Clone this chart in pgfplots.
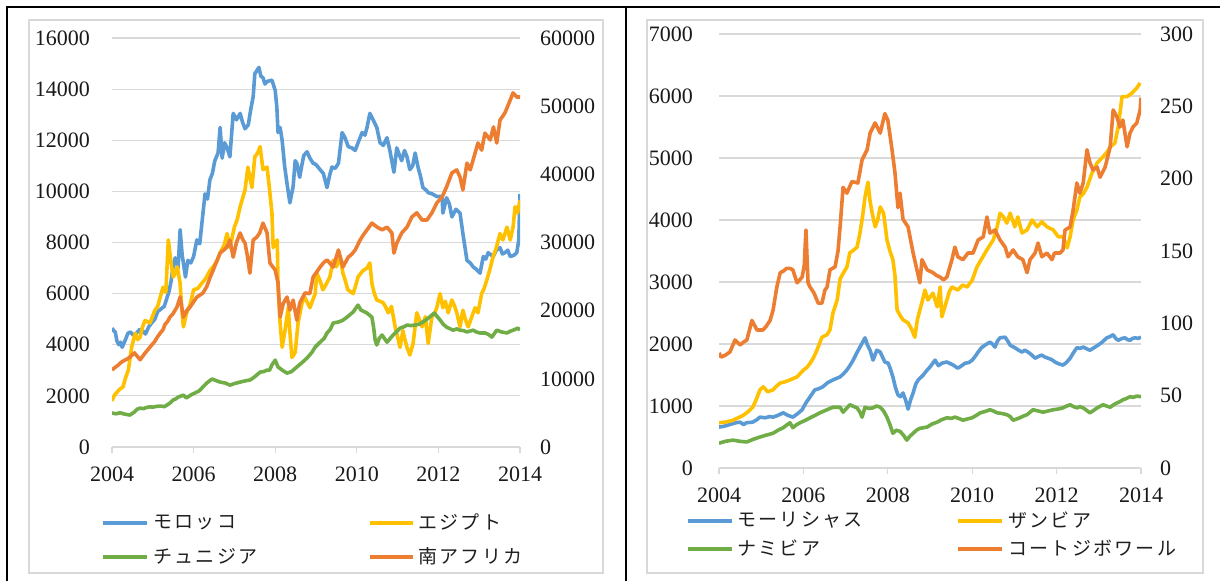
\documentclass[border=0pt]{standalone}
\usepackage{pgfplots}
\pgfplotsset{compat=1.18}
\usepackage{fontspec}
\setmainfont{Liberation Serif}
\newfontfamily\cjk[LetterSpace=12]{Noto Sans CJK JP}
\definecolor{cblue}{HTML}{5B9BD5}
\definecolor{corange}{HTML}{ED7D31}
\definecolor{cyellow}{HTML}{FFC000}
\definecolor{cgreen}{HTML}{70AD47}
\definecolor{gridgray}{HTML}{D9D9D9}
\definecolor{framegray}{HTML}{D9D9D9}
\pgfplotsset{
  base/.style={scale only axis, xmin=2004, xmax=2014, ymin=0,
    /pgf/number format/1000 sep={}, /pgf/number format/assume math mode=true,
    scaled y ticks=false, scaled x ticks=false,
    tick label style={font=\fontsize{22}{22}\selectfont, text=black!90},
    tick align=outside, major tick length=6pt},
  prim/.style={base, xtick={2004,2006,...,2014},
    axis x line*=bottom, axis y line*=left,
    y axis line style={draw=none}, x axis line style={draw=gridgray, line width=1.2pt},
    xtick style={draw=gridgray, line width=1.2pt}, ytick style={draw=none},
    ymajorgrids, grid style={draw=gridgray, line width=1.2pt},
    xticklabel style={inner sep=0pt, anchor=north, yshift=-14pt}},
  seco/.style={base, axis y line*=right, axis x line=none, xtick=\empty,
    y axis line style={draw=none}, ytick style={draw=none}}
}
\begin{document}
\begin{tikzpicture}[x=1pt,y=1pt]
\useasboundingbox (0,0) rectangle (1220,581);
% frames
\draw[framegray, line width=1.5pt] (29,8) rectangle (603,561);
\draw[framegray, line width=1.5pt] (647,8) rectangle (1203,561);
\draw[black, line width=2.5pt] (7,0) -- (7,574) -- (1220,574);
\draw[black, line width=2.5pt] (626,0) -- (626,574);

% ---------------- left panel ----------------
\begin{axis}[prim, at={(112pt,134pt)}, anchor=south west, width=408pt, height=409pt,
  ymax=16000, ytick={0,2000,...,16000}, yticklabel style={inner sep=0pt, xshift=-16pt}]
% Morocco
\addplot[draw=cblue, line width=3.6pt, line join=round, mark=none] table {
2004.00 4650
2004.04 4550
2004.08 4500
2004.12 4150
2004.17 4000
2004.21 4100
2004.25 3900
2004.33 4200
2004.39 4450
2004.45 4500
2004.52 4380
2004.6 4450
2004.68 4600
2004.75 4550
2004.82 4420
2004.9 4700
2004.97 4850
2005.05 5000
2005.12 5300
2005.2 5400
2005.28 5500
2005.35 5850
2005.4 6100
2005.45 6500
2005.5 7100
2005.55 7400
2005.62 7000
2005.67 8500
2005.72 7500
2005.75 7200
2005.8 6650
2005.86 7300
2005.93 7200
2006.0 7450
2006.08 8100
2006.15 7950
2006.22 9000
2006.28 9900
2006.34 9700
2006.4 10450
2006.46 10700
2006.52 11200
2006.6 11500
2006.65 12500
2006.7 11300
2006.76 11900
2006.82 11700
2006.89 11350
2006.93 12200
2006.97 13050
2007.05 12800
2007.14 13050
2007.2 12700
2007.26 12450
2007.34 12600
2007.4 13200
2007.46 13700
2007.5 14600
2007.6 14850
2007.65 14500
2007.7 14450
2007.75 14200
2007.8 14300
2007.92 14350
2008.0 13950
2008.04 13300
2008.07 12300
2008.12 12500
2008.17 12000
2008.23 11000
2008.29 10300
2008.36 9550
2008.44 10200
2008.49 11200
2008.53 11100
2008.6 10550
2008.65 11000
2008.7 11400
2008.78 11550
2008.85 11300
2008.93 11100
2009.0 11050
2009.1 10850
2009.18 10700
2009.27 10150
2009.33 10600
2009.39 10950
2009.47 10900
2009.55 11100
2009.64 12300
2009.71 12100
2009.79 11750
2009.88 11700
2009.96 11600
2010.03 11900
2010.13 12300
2010.2 12200
2010.25 12500
2010.32 13050
2010.4 12800
2010.49 12500
2010.57 11900
2010.65 11800
2010.74 12100
2010.81 11600
2010.91 10750
2010.98 11700
2011.05 11400
2011.1 11200
2011.17 11600
2011.23 11350
2011.3 10850
2011.37 11000
2011.43 11500
2011.5 10950
2011.56 10600
2011.62 10150
2011.7 10050
2011.75 9950
2011.85 9900
2011.96 9800
2012.09 9800
2012.11 9150
2012.2 9750
2012.27 9500
2012.33 9000
2012.43 9300
2012.53 9150
2012.6 8350
2012.7 7300
2012.78 7200
2012.85 7050
2012.93 6950
2013.02 6800
2013.1 7450
2013.16 7350
2013.22 7600
2013.34 7450
2013.42 7700
2013.51 7800
2013.57 7550
2013.63 7600
2013.7 7700
2013.76 7450
2013.85 7500
2013.92 7600
2013.97 8100
2014.0 9900
};
% Egypt
\addplot[draw=cyellow, line width=3.6pt, line join=round, mark=none] table {
2004.0 1800
2004.05 2000
2004.1 2100
2004.18 2250
2004.27 2350
2004.33 2700
2004.4 3000
2004.48 3900
2004.57 4450
2004.63 4200
2004.69 4300
2004.75 4700
2004.81 4950
2004.93 4850
2004.99 5100
2005.05 5350
2005.12 5500
2005.18 5850
2005.25 6250
2005.32 6050
2005.38 8100
2005.44 7300
2005.5 6650
2005.55 6800
2005.6 7050
2005.67 6400
2005.71 5400
2005.75 4700
2005.83 5250
2005.92 5600
2006.0 6150
2006.1 6200
2006.2 6400
2006.3 6600
2006.4 6900
2006.5 7100
2006.58 7300
2006.65 7600
2006.75 7900
2006.82 8350
2006.89 7800
2007.0 8600
2007.07 8900
2007.14 9400
2007.26 10050
2007.33 10950
2007.43 10150
2007.5 11350
2007.57 11500
2007.63 11750
2007.7 10850
2007.8 10950
2007.86 10100
2007.92 9150
2007.95 7800
2008.05 8100
2008.07 6250
2008.12 4850
2008.17 3900
2008.24 4550
2008.32 5450
2008.36 4500
2008.41 3500
2008.49 3700
2008.56 4850
2008.66 5650
2008.73 5850
2008.85 5450
2008.98 6000
2009.02 6800
2009.1 6500
2009.17 6150
2009.26 6400
2009.34 6650
2009.42 7300
2009.5 7050
2009.59 7450
2009.66 6800
2009.72 6500
2009.78 6150
2009.91 6000
2009.97 6300
2010.03 6650
2010.15 6900
2010.25 7000
2010.32 7200
2010.37 6400
2010.43 6000
2010.49 5750
2010.57 5700
2010.64 5650
2010.7 5500
2010.77 5250
2010.85 5500
2010.94 4700
2011.0 4300
2011.06 3900
2011.13 4550
2011.18 4200
2011.23 3900
2011.3 3600
2011.38 4050
2011.47 5250
2011.53 5000
2011.6 4700
2011.68 5100
2011.75 4050
2011.84 5100
2011.9 5200
2011.96 5450
2012.04 6000
2012.11 5450
2012.17 5700
2012.24 5250
2012.33 5750
2012.4 5500
2012.45 5250
2012.53 4700
2012.6 5350
2012.66 5000
2012.73 4700
2012.82 5100
2012.9 5450
2012.97 5250
2013.06 6000
2013.12 6200
2013.19 6550
2013.27 7000
2013.34 7450
2013.42 7800
2013.51 8350
2013.58 8100
2013.68 8600
2013.76 8100
2013.83 8600
2013.88 9400
2013.94 9150
2014.0 9650
};
% Tunisia
\addplot[draw=cgreen, line width=3.6pt, line join=round, mark=none] table {
2004.0 1330
2004.1 1300
2004.2 1340
2004.3 1290
2004.44 1250
2004.55 1370
2004.62 1480
2004.69 1520
2004.77 1500
2004.85 1550
2004.93 1570
2005.0 1560
2005.1 1590
2005.2 1600
2005.28 1580
2005.35 1640
2005.42 1720
2005.5 1840
2005.56 1880
2005.62 1950
2005.75 2030
2005.82 1920
2005.95 2050
2006.08 2150
2006.14 2200
2006.2 2300
2006.32 2500
2006.45 2660
2006.55 2600
2006.65 2540
2006.78 2500
2006.89 2420
2007.0 2480
2007.14 2540
2007.3 2600
2007.38 2620
2007.46 2700
2007.55 2820
2007.63 2930
2007.72 2950
2007.8 3010
2007.86 3000
2007.92 3210
2008.0 3400
2008.07 3130
2008.18 3000
2008.29 2890
2008.4 2950
2008.53 3130
2008.65 3290
2008.78 3480
2008.9 3700
2008.98 3910
2009.1 4100
2009.2 4250
2009.27 4460
2009.35 4600
2009.42 4850
2009.55 4890
2009.65 4950
2009.76 5080
2009.91 5280
2010.03 5550
2010.1 5360
2010.25 5240
2010.37 5080
2010.41 4700
2010.45 4180
2010.49 3990
2010.55 4250
2010.62 4380
2010.74 4100
2010.82 4250
2010.89 4380
2011.0 4550
2011.06 4650
2011.15 4700
2011.23 4770
2011.33 4750
2011.43 4770
2011.52 4800
2011.62 4890
2011.72 5000
2011.84 5160
2011.9 5240
2012.04 4970
2012.12 4800
2012.2 4690
2012.36 4570
2012.45 4620
2012.53 4570
2012.62 4550
2012.7 4500
2012.85 4570
2012.93 4500
2013.02 4460
2013.15 4460
2013.23 4400
2013.31 4300
2013.43 4570
2013.55 4500
2013.68 4460
2013.75 4520
2013.83 4570
2013.95 4650
2014.0 4570
};
\end{axis}
\begin{axis}[seco, at={(112pt,134pt)}, anchor=south west, width=408pt, height=409pt,
  ymax=60000, ytick={0,10000,...,60000}, yticklabel style={inner sep=0pt, xshift=14pt}]
% South Africa
\addplot[draw=corange, line width=3.6pt, line join=round, mark=none] table {
2004.0 11300
2004.08 11700
2004.15 12000
2004.22 12400
2004.3 12700
2004.37 12900
2004.44 13200
2004.55 13800
2004.62 13300
2004.69 12800
2004.8 13700
2004.93 14650
2005.05 15500
2005.12 16200
2005.18 16700
2005.25 17200
2005.3 18000
2005.36 18400
2005.42 19050
2005.5 19600
2005.59 20500
2005.67 22000
2005.75 19050
2005.83 20000
2005.91 20500
2006.0 21300
2006.08 22000
2006.16 22300
2006.23 22600
2006.32 23500
2006.4 24800
2006.48 25950
2006.57 27300
2006.65 28450
2006.74 28900
2006.82 29350
2006.89 30350
2006.97 27850
2007.05 30000
2007.14 31400
2007.2 30500
2007.26 29900
2007.32 28000
2007.38 25500
2007.46 30350
2007.55 30800
2007.62 31400
2007.7 32850
2007.8 31400
2007.87 27000
2008.0 25950
2008.07 24050
2008.12 19050
2008.2 21100
2008.29 22000
2008.36 20100
2008.44 21550
2008.53 18600
2008.6 21100
2008.73 22600
2008.85 22500
2008.93 24950
2009.02 25700
2009.1 26400
2009.18 27000
2009.27 27450
2009.42 26400
2009.55 28900
2009.66 26400
2009.79 27850
2009.88 28300
2009.96 28900
2010.08 30350
2010.17 31200
2010.25 31850
2010.37 32850
2010.5 32250
2010.62 31850
2010.74 32250
2010.86 31400
2010.91 28450
2010.98 29900
2011.1 31400
2011.23 32250
2011.35 33750
2011.47 34350
2011.6 33300
2011.72 33300
2011.84 34350
2011.96 35800
2012.09 36650
2012.2 38150
2012.33 40200
2012.45 40650
2012.53 39600
2012.6 37700
2012.7 41650
2012.78 40650
2012.85 42100
2012.97 44600
2013.06 43550
2013.14 46050
2013.27 45050
2013.35 46950
2013.43 44600
2013.51 47950
2013.63 49000
2013.76 50900
2013.83 51950
2013.92 51350
2014.0 51350
};
\end{axis}

% ---------------- right panel ----------------
\begin{axis}[prim, at={(719pt,113pt)}, anchor=south west, width=422pt, height=434pt,
  ymax=7000, ytick={0,1000,...,7000}, yticklabel style={inner sep=0pt, xshift=-20pt}]
% Mauritius
\addplot[draw=cblue, line width=3.6pt, line join=round, mark=none] table {
2004.0 660
2004.1 670
2004.2 690
2004.3 710
2004.4 730
2004.5 740
2004.58 700
2004.65 730
2004.8 740
2004.9 780
2004.97 820
2005.1 810
2005.2 830
2005.28 820
2005.4 850
2005.52 890
2005.63 850
2005.75 820
2005.87 880
2005.97 940
2006.06 1050
2006.16 1150
2006.27 1260
2006.37 1280
2006.46 1310
2006.58 1380
2006.7 1420
2006.87 1470
2006.95 1520
2007.03 1580
2007.1 1650
2007.18 1740
2007.26 1850
2007.34 1950
2007.46 2100
2007.52 1980
2007.58 1900
2007.65 1740
2007.74 1900
2007.82 1870
2007.93 1710
2008.01 1690
2008.06 1600
2008.12 1470
2008.18 1300
2008.24 1180
2008.3 1150
2008.36 1210
2008.42 1100
2008.48 950
2008.54 1100
2008.6 1210
2008.66 1350
2008.72 1420
2008.84 1500
2008.92 1570
2009.0 1630
2009.12 1740
2009.2 1650
2009.28 1690
2009.4 1710
2009.55 1660
2009.66 1610
2009.75 1650
2009.83 1690
2009.92 1700
2010.0 1740
2010.07 1800
2010.14 1870
2010.22 1940
2010.3 1980
2010.42 2030
2010.48 2000
2010.54 1950
2010.6 2050
2010.66 2100
2010.78 2110
2010.84 2050
2010.9 1980
2011.01 1940
2011.1 1900
2011.18 1870
2011.25 1900
2011.32 1870
2011.4 1830
2011.49 1770
2011.57 1800
2011.65 1820
2011.72 1790
2011.8 1770
2011.88 1750
2011.96 1710
2012.05 1680
2012.15 1660
2012.23 1700
2012.32 1770
2012.4 1860
2012.48 1940
2012.56 1930
2012.63 1950
2012.72 1920
2012.79 1900
2012.91 1950
2013.0 1990
2013.08 2030
2013.19 2100
2013.27 2120
2013.34 2150
2013.4 2090
2013.46 2060
2013.55 2090
2013.62 2100
2013.68 2070
2013.74 2060
2013.8 2090
2013.86 2100
2013.93 2090
2014.0 2110
};
% Zambia
\addplot[draw=cyellow, line width=3.6pt, line join=round, mark=none] table {
2004.0 730
2004.15 740
2004.33 770
2004.45 810
2004.55 840
2004.66 890
2004.8 980
2004.88 1100
2004.97 1260
2005.05 1310
2005.15 1230
2005.28 1260
2005.36 1320
2005.45 1370
2005.56 1390
2005.68 1420
2005.85 1470
2006.0 1580
2006.08 1620
2006.16 1690
2006.24 1780
2006.32 1900
2006.44 2110
2006.56 2150
2006.63 2230
2006.7 2500
2006.8 2710
2006.87 3050
2006.95 3150
2007.03 3240
2007.1 3470
2007.2 3520
2007.27 3560
2007.34 3790
2007.4 4050
2007.46 4370
2007.53 4610
2007.58 4300
2007.63 4110
2007.7 3890
2007.76 4000
2007.82 4210
2007.9 4110
2007.98 3680
2008.05 3500
2008.12 3360
2008.17 3100
2008.22 2550
2008.3 2450
2008.36 2390
2008.48 2340
2008.57 2230
2008.64 2110
2008.7 2390
2008.76 2550
2008.82 2700
2008.88 2870
2008.95 2710
2009.07 2820
2009.17 2600
2009.24 2920
2009.28 2440
2009.4 2710
2009.46 2850
2009.52 2920
2009.66 2870
2009.77 2950
2009.88 2920
2010.0 3030
2010.11 3240
2010.23 3380
2010.35 3520
2010.5 3680
2010.59 3890
2010.66 4110
2010.74 4050
2010.82 3950
2010.9 4110
2011.01 3890
2011.08 4050
2011.18 3790
2011.3 3840
2011.42 4000
2011.54 3890
2011.65 3970
2011.77 3890
2011.92 3840
2012.04 3730
2012.15 3730
2012.25 3550
2012.32 3730
2012.39 4000
2012.48 4160
2012.55 4370
2012.63 4420
2012.72 4530
2012.84 4760
2012.96 4920
2013.1 5020
2013.2 5100
2013.27 5180
2013.38 5240
2013.46 5500
2013.55 5990
2013.67 5990
2013.79 6050
2013.9 6130
2013.98 6210
};
% Namibia
\addplot[draw=cgreen, line width=3.6pt, line join=round, mark=none] table {
2004.0 400
2004.15 430
2004.33 450
2004.5 430
2004.66 420
2004.8 460
2004.97 500
2005.12 530
2005.28 560
2005.4 610
2005.52 650
2005.6 690
2005.68 730
2005.75 650
2005.84 700
2005.92 730
2006.05 770
2006.16 810
2006.28 850
2006.39 890
2006.56 940
2006.7 980
2006.87 980
2006.94 900
2007.02 960
2007.1 1020
2007.2 990
2007.27 970
2007.34 900
2007.39 820
2007.46 980
2007.55 960
2007.65 970
2007.73 1000
2007.82 980
2007.9 920
2007.98 820
2008.05 700
2008.12 560
2008.2 610
2008.29 590
2008.37 530
2008.45 450
2008.52 510
2008.6 560
2008.68 610
2008.76 640
2008.85 650
2008.93 660
2009.05 710
2009.17 740
2009.28 780
2009.4 810
2009.5 800
2009.59 820
2009.68 800
2009.78 770
2009.88 790
2010.0 810
2010.1 850
2010.19 890
2010.3 910
2010.42 940
2010.5 920
2010.59 890
2010.7 880
2010.82 860
2010.9 830
2010.97 770
2011.05 790
2011.13 810
2011.22 840
2011.3 860
2011.37 900
2011.44 940
2011.56 920
2011.68 900
2011.8 920
2011.92 940
2012.03 950
2012.15 970
2012.24 1000
2012.32 1020
2012.4 990
2012.48 970
2012.55 990
2012.63 970
2012.71 930
2012.79 890
2012.88 930
2012.96 970
2013.1 1020
2013.18 1000
2013.27 980
2013.35 1020
2013.43 1050
2013.5 1070
2013.57 1100
2013.65 1120
2013.74 1150
2013.82 1140
2013.9 1160
2014.0 1150
};
\end{axis}
\begin{axis}[seco, at={(719pt,113pt)}, anchor=south west, width=422pt, height=434pt,
  ymax=300, ytick={0,50,...,300}, yticklabel style={inner sep=0pt, xshift=13pt}]
% Cote d'Ivoire
\addplot[draw=corange, line width=3.6pt, line join=round, mark=none] table {
2004.0 79.5
2004.05 76.7
2004.15 78
2004.26 80.2
2004.38 88.5
2004.5 85
2004.58 87
2004.66 88.5
2004.78 102
2004.9 95.4
2005.04 95.4
2005.12 98
2005.21 102
2005.28 109
2005.37 125
2005.45 135
2005.52 136
2005.6 138
2005.68 138
2005.75 137
2005.85 128
2005.97 132
2006.02 140
2006.06 164.5
2006.11 128
2006.16 125
2006.25 121
2006.35 114
2006.44 114
2006.51 123
2006.56 125
2006.63 137
2006.75 139
2006.82 150
2006.87 167
2006.94 194
2007.03 190
2007.15 198
2007.29 197
2007.39 213
2007.51 220
2007.58 231.5
2007.7 238.5
2007.82 231.5
2007.93 245
2008.0 240.5
2008.1 220
2008.17 204
2008.24 180
2008.29 190
2008.36 172
2008.48 166.6
2008.6 148.6
2008.69 137
2008.76 128
2008.81 144
2008.93 137
2009.07 135
2009.16 133
2009.24 132
2009.32 130
2009.4 132
2009.52 144
2009.59 152.7
2009.66 146
2009.78 144
2009.9 148.6
2010.02 148.6
2010.14 157.6
2010.26 159.7
2010.35 173.5
2010.42 162.4
2010.54 164.5
2010.66 157.6
2010.78 152.7
2010.85 146
2010.97 150.7
2011.08 146
2011.2 144
2011.3 135
2011.37 144
2011.49 148.6
2011.56 155.5
2011.65 146
2011.77 148.6
2011.89 144
2011.95 148.6
2012.08 148.6
2012.15 150.7
2012.2 164.5
2012.32 166.6
2012.39 178
2012.48 197
2012.55 190
2012.63 197
2012.72 220
2012.79 211
2012.86 206
2012.96 208
2013.03 201
2013.15 208
2013.27 222
2013.34 247.5
2013.43 242.6
2013.5 235.7
2013.57 240.5
2013.67 222
2013.74 231.5
2013.81 235.7
2013.9 238.5
2013.98 247.5
2014.0 256
};
\end{axis}

% ---------------- legends ----------------
\def\legfont{\cjk\fontsize{19}{19}\selectfont\color{black!88}}
\draw[cblue, line width=4pt] (103,58) -- (147,58);
\node[anchor=west, inner sep=0pt] at (153,59) {\legfont モロッコ};
\draw[cyellow, line width=4pt] (370,58) -- (413,58);
\node[anchor=west, inner sep=0pt] at (418,59) {\legfont エジプト};
\draw[cgreen, line width=4pt] (103,24) -- (147,24);
\node[anchor=west, inner sep=0pt] at (153,25) {\legfont チュニジア};
\draw[corange, line width=4pt] (370,24) -- (413,24);
\node[anchor=west, inner sep=0pt] at (418,25) {\legfont 南アフリカ};

\draw[cblue, line width=4pt] (688,60) -- (732,60);
\node[anchor=west, inner sep=0pt] at (737,61) {\legfont モーリシャス};
\draw[cyellow, line width=4pt] (958,60) -- (1002,60);
\node[anchor=west, inner sep=0pt] at (1008,61) {\legfont ザンビア};
\draw[cgreen, line width=4pt] (688,32) -- (732,32);
\node[anchor=west, inner sep=0pt] at (737,33) {\legfont ナミビア};
\draw[corange, line width=4pt] (958,32) -- (1002,32);
\node[anchor=west, inner sep=0pt] at (1008,33) {\legfont コートジボワール};
\end{tikzpicture}
\end{document}
